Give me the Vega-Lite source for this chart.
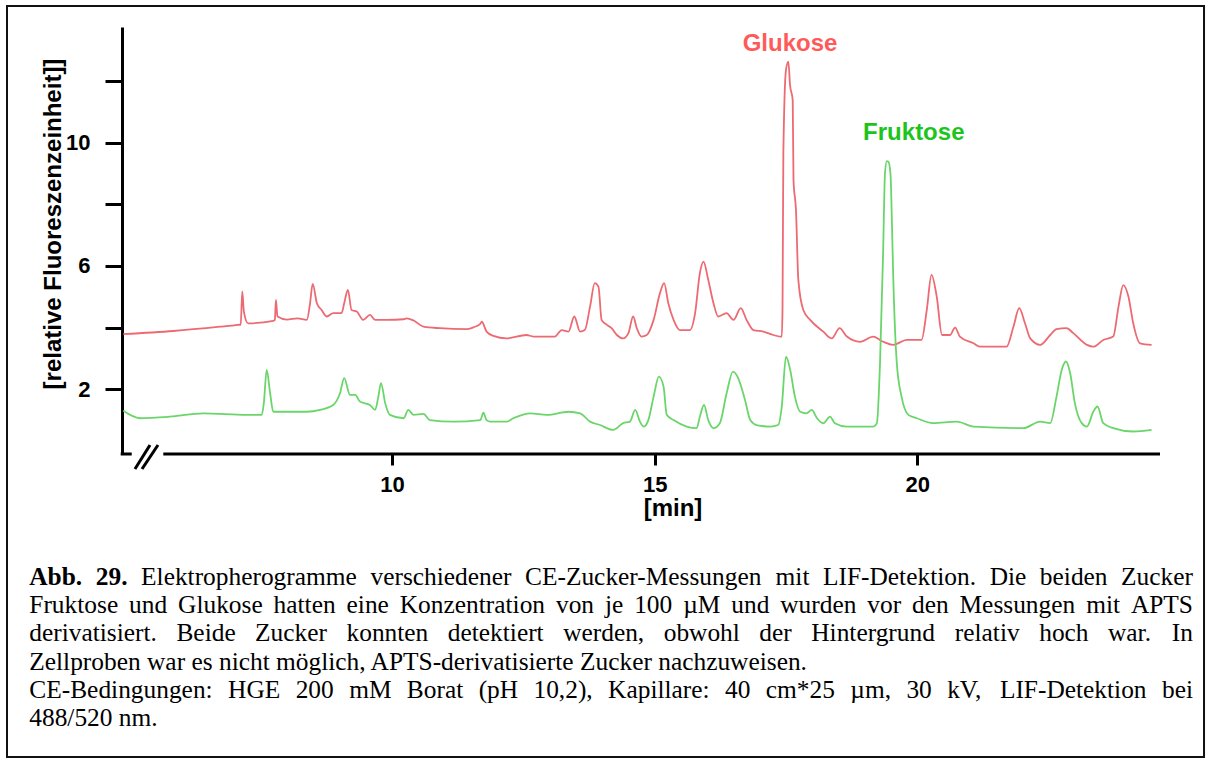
{
  "$schema": "https://vega.github.io/schema/vega-lite/v6.json",
  "width": 1038,
  "height": 427,
  "autosize": {"type": "none"},
  "padding": {"left": 122, "top": 27, "right": 51, "bottom": 310},
  "background": "white",
  "config": {"view": {"stroke": null}},
  "datasets": {
    "traces": [
      {"s":"Glukose","t":4.885,"f":3.79},{"s":"Glukose","t":5.84,"f":3.89},{"s":"Glukose","t":6.73,"f":4.03},{"s":"Glukose","t":7.07,"f":4.09},{"s":"Glukose","t":7.12,"f":4.10},{"s":"Glukose","t":7.15,"f":5.17},{"s":"Glukose","t":7.18,"f":4.52},{"s":"Glukose","t":7.26,"f":4.14},{"s":"Glukose","t":7.74,"f":4.22},{"s":"Glukose","t":7.77,"f":4.25},{"s":"Glukose","t":7.79,"f":4.90},{"s":"Glukose","t":7.82,"f":4.36},{"s":"Glukose","t":8.0,"f":4.26},{"s":"Glukose","t":8.2,"f":4.3},{"s":"Glukose","t":8.38,"f":4.25},{"s":"Glukose","t":8.44,"f":4.79},{"s":"Glukose","t":8.49,"f":5.42},{"s":"Glukose","t":8.57,"f":4.79},{"s":"Glukose","t":8.66,"f":4.57},{"s":"Glukose","t":8.76,"f":4.36},{"s":"Glukose","t":8.88,"f":4.47},{"s":"Glukose","t":9.04,"f":4.47},{"s":"Glukose","t":9.09,"f":4.79},{"s":"Glukose","t":9.16,"f":5.22},{"s":"Glukose","t":9.23,"f":4.57},{"s":"Glukose","t":9.33,"f":4.52},{"s":"Glukose","t":9.45,"f":4.25},{"s":"Glukose","t":9.58,"f":4.41},{"s":"Glukose","t":9.68,"f":4.25},{"s":"Glukose","t":9.90,"f":4.25},{"s":"Glukose","t":10.22,"f":4.27},{"s":"Glukose","t":10.28,"f":4.30},{"s":"Glukose","t":10.41,"f":4.23},{"s":"Glukose","t":10.60,"f":4.03},{"s":"Glukose","t":10.91,"f":3.98},{"s":"Glukose","t":11.42,"f":3.95},{"s":"Glukose","t":11.55,"f":4.01},{"s":"Glukose","t":11.68,"f":4.12},{"s":"Glukose","t":11.71,"f":4.19},{"s":"Glukose","t":11.80,"f":3.87},{"s":"Glukose","t":11.93,"f":3.73},{"s":"Glukose","t":12.18,"f":3.65},{"s":"Glukose","t":12.56,"f":3.76},{"s":"Glukose","t":12.69,"f":3.71},{"s":"Glukose","t":13.10,"f":3.71},{"s":"Glukose","t":13.23,"f":3.92},{"s":"Glukose","t":13.36,"f":3.87},{"s":"Glukose","t":13.47,"f":4.36},{"s":"Glukose","t":13.58,"f":3.87},{"s":"Glukose","t":13.67,"f":3.92},{"s":"Glukose","t":13.77,"f":4.68},{"s":"Glukose","t":13.86,"f":5.44},{"s":"Glukose","t":13.93,"f":5.33},{"s":"Glukose","t":13.99,"f":4.25},{"s":"Glukose","t":14.09,"f":4.09},{"s":"Glukose","t":14.18,"f":3.98},{"s":"Glukose","t":14.28,"f":3.76},{"s":"Glukose","t":14.40,"f":3.65},{"s":"Glukose","t":14.50,"f":3.82},{"s":"Glukose","t":14.59,"f":4.36},{"s":"Glukose","t":14.66,"f":3.98},{"s":"Glukose","t":14.75,"f":3.71},{"s":"Glukose","t":14.85,"f":3.76},{"s":"Glukose","t":14.98,"f":4.25},{"s":"Glukose","t":15.10,"f":5.11},{"s":"Glukose","t":15.18,"f":5.44},{"s":"Glukose","t":15.26,"f":4.79},{"s":"Glukose","t":15.36,"f":4.25},{"s":"Glukose","t":15.48,"f":3.92},{"s":"Glukose","t":15.67,"f":3.92},{"s":"Glukose","t":15.77,"f":4.47},{"s":"Glukose","t":15.86,"f":5.76},{"s":"Glukose","t":15.93,"f":6.14},{"s":"Glukose","t":16.02,"f":5.55},{"s":"Glukose","t":16.12,"f":4.79},{"s":"Glukose","t":16.21,"f":4.36},{"s":"Glukose","t":16.37,"f":4.47},{"s":"Glukose","t":16.50,"f":4.25},{"s":"Glukose","t":16.64,"f":4.63},{"s":"Glukose","t":16.75,"f":4.25},{"s":"Glukose","t":16.88,"f":3.92},{"s":"Glukose","t":17.07,"f":3.87},{"s":"Glukose","t":17.26,"f":3.76},{"s":"Glukose","t":17.39,"f":3.71},{"s":"Glukose","t":17.42,"f":3.71},{"s":"Glukose","t":17.434,"f":4.6},{"s":"Glukose","t":17.45,"f":9.66},{"s":"Glukose","t":17.50,"f":12.36},{"s":"Glukose","t":17.545,"f":12.63},{"s":"Glukose","t":17.577,"f":11.87},{"s":"Glukose","t":17.628,"f":11.38},{"s":"Glukose","t":17.643,"f":8.79},{"s":"Glukose","t":17.69,"f":7.82},{"s":"Glukose","t":17.735,"f":5.55},{"s":"Glukose","t":17.83,"f":4.57},{"s":"Glukose","t":17.96,"f":4.25},{"s":"Glukose","t":18.21,"f":3.87},{"s":"Glukose","t":18.37,"f":3.65},{"s":"Glukose","t":18.52,"f":3.98},{"s":"Glukose","t":18.66,"f":3.71},{"s":"Glukose","t":18.91,"f":3.54},{"s":"Glukose","t":19.16,"f":3.71},{"s":"Glukose","t":19.35,"f":3.54},{"s":"Glukose","t":19.54,"f":3.44},{"s":"Glukose","t":19.80,"f":3.60},{"s":"Glukose","t":20.08,"f":3.60},{"s":"Glukose","t":20.18,"f":4.57},{"s":"Glukose","t":20.27,"f":5.71},{"s":"Glukose","t":20.37,"f":5.00},{"s":"Glukose","t":20.47,"f":3.76},{"s":"Glukose","t":20.62,"f":3.76},{"s":"Glukose","t":20.72,"f":4.00},{"s":"Glukose","t":20.81,"f":3.71},{"s":"Glukose","t":21.07,"f":3.49},{"s":"Glukose","t":21.19,"f":3.38},{"s":"Glukose","t":21.70,"f":3.38},{"s":"Glukose","t":21.83,"f":4.03},{"s":"Glukose","t":21.94,"f":4.63},{"s":"Glukose","t":22.05,"f":4.14},{"s":"Glukose","t":22.15,"f":3.65},{"s":"Glukose","t":22.34,"f":3.44},{"s":"Glukose","t":22.53,"f":3.76},{"s":"Glukose","t":22.65,"f":3.95},{"s":"Glukose","t":22.84,"f":3.98},{"s":"Glukose","t":22.97,"f":3.82},{"s":"Glukose","t":23.23,"f":3.44},{"s":"Glukose","t":23.35,"f":3.38},{"s":"Glukose","t":23.54,"f":3.60},{"s":"Glukose","t":23.73,"f":3.71},{"s":"Glukose","t":23.83,"f":4.68},{"s":"Glukose","t":23.92,"f":5.38},{"s":"Glukose","t":24.02,"f":5.00},{"s":"Glukose","t":24.11,"f":4.14},{"s":"Glukose","t":24.24,"f":3.49},{"s":"Glukose","t":24.46,"f":3.44},
      {"s":"Fruktose","t":4.885,"f":1.30},{"s":"Fruktose","t":5.20,"f":1.06},{"s":"Fruktose","t":5.77,"f":1.11},{"s":"Fruktose","t":6.41,"f":1.22},{"s":"Fruktose","t":7.23,"f":1.17},{"s":"Fruktose","t":7.52,"f":1.17},{"s":"Fruktose","t":7.56,"f":1.55},{"s":"Fruktose","t":7.615,"f":2.63},{"s":"Fruktose","t":7.68,"f":1.87},{"s":"Fruktose","t":7.74,"f":1.27},{"s":"Fruktose","t":8.38,"f":1.27},{"s":"Fruktose","t":8.63,"f":1.33},{"s":"Fruktose","t":8.88,"f":1.49},{"s":"Fruktose","t":9.01,"f":1.87},{"s":"Fruktose","t":9.09,"f":2.36},{"s":"Fruktose","t":9.2,"f":1.82},{"s":"Fruktose","t":9.30,"f":1.82},{"s":"Fruktose","t":9.39,"f":1.60},{"s":"Fruktose","t":9.58,"f":1.49},{"s":"Fruktose","t":9.68,"f":1.33},{"s":"Fruktose","t":9.74,"f":1.76},{"s":"Fruktose","t":9.79,"f":2.20},{"s":"Fruktose","t":9.87,"f":1.55},{"s":"Fruktose","t":9.96,"f":1.17},{"s":"Fruktose","t":10.22,"f":1.06},{"s":"Fruktose","t":10.31,"f":1.33},{"s":"Fruktose","t":10.41,"f":1.17},{"s":"Fruktose","t":10.60,"f":1.20},{"s":"Fruktose","t":10.72,"f":1.00},{"s":"Fruktose","t":11.17,"f":0.95},{"s":"Fruktose","t":11.68,"f":1.00},{"s":"Fruktose","t":11.74,"f":1.24},{"s":"Fruktose","t":11.80,"f":1.00},{"s":"Fruktose","t":11.87,"f":0.95},{"s":"Fruktose","t":12.18,"f":0.95},{"s":"Fruktose","t":12.31,"f":1.06},{"s":"Fruktose","t":12.63,"f":1.22},{"s":"Fruktose","t":12.95,"f":1.17},{"s":"Fruktose","t":13.36,"f":1.27},{"s":"Fruktose","t":13.58,"f":1.22},{"s":"Fruktose","t":13.77,"f":0.95},{"s":"Fruktose","t":13.96,"f":0.84},{"s":"Fruktose","t":14.21,"f":0.68},{"s":"Fruktose","t":14.40,"f":0.90},{"s":"Fruktose","t":14.53,"f":0.95},{"s":"Fruktose","t":14.63,"f":1.33},{"s":"Fruktose","t":14.72,"f":0.95},{"s":"Fruktose","t":14.79,"f":0.79},{"s":"Fruktose","t":14.88,"f":1.00},{"s":"Fruktose","t":14.98,"f":1.76},{"s":"Fruktose","t":15.08,"f":2.41},{"s":"Fruktose","t":15.17,"f":2.08},{"s":"Fruktose","t":15.23,"f":1.17},{"s":"Fruktose","t":15.36,"f":1.00},{"s":"Fruktose","t":15.61,"f":0.79},{"s":"Fruktose","t":15.80,"f":0.74},{"s":"Fruktose","t":15.86,"f":1.11},{"s":"Fruktose","t":15.94,"f":1.49},{"s":"Fruktose","t":16.02,"f":1.00},{"s":"Fruktose","t":16.12,"f":0.74},{"s":"Fruktose","t":16.24,"f":0.90},{"s":"Fruktose","t":16.37,"f":1.87},{"s":"Fruktose","t":16.49,"f":2.57},{"s":"Fruktose","t":16.59,"f":2.36},{"s":"Fruktose","t":16.72,"f":1.65},{"s":"Fruktose","t":16.82,"f":1.00},{"s":"Fruktose","t":16.94,"f":0.84},{"s":"Fruktose","t":17.20,"f":0.79},{"s":"Fruktose","t":17.35,"f":0.84},{"s":"Fruktose","t":17.42,"f":1.44},{"s":"Fruktose","t":17.50,"f":3.06},{"s":"Fruktose","t":17.58,"f":2.63},{"s":"Fruktose","t":17.67,"f":1.76},{"s":"Fruktose","t":17.77,"f":1.27},{"s":"Fruktose","t":17.89,"f":1.22},{"s":"Fruktose","t":17.99,"f":1.33},{"s":"Fruktose","t":18.09,"f":1.06},{"s":"Fruktose","t":18.21,"f":0.90},{"s":"Fruktose","t":18.34,"f":1.11},{"s":"Fruktose","t":18.43,"f":0.90},{"s":"Fruktose","t":18.66,"f":0.79},{"s":"Fruktose","t":18.91,"f":0.79},{"s":"Fruktose","t":19.16,"f":0.79},{"s":"Fruktose","t":19.23,"f":0.90},{"s":"Fruktose","t":19.29,"f":2.84},{"s":"Fruktose","t":19.35,"f":6.52},{"s":"Fruktose","t":19.385,"f":9.02},{"s":"Fruktose","t":19.42,"f":9.40},{"s":"Fruktose","t":19.45,"f":9.38},{"s":"Fruktose","t":19.49,"f":8.97},{"s":"Fruktose","t":19.52,"f":7.17},{"s":"Fruktose","t":19.54,"f":5.76},{"s":"Fruktose","t":19.61,"f":2.84},{"s":"Fruktose","t":19.70,"f":1.76},{"s":"Fruktose","t":19.83,"f":1.17},{"s":"Fruktose","t":19.99,"f":1.06},{"s":"Fruktose","t":20.30,"f":0.90},{"s":"Fruktose","t":20.75,"f":0.95},{"s":"Fruktose","t":21.07,"f":0.79},{"s":"Fruktose","t":22.02,"f":0.74},{"s":"Fruktose","t":22.34,"f":0.95},{"s":"Fruktose","t":22.53,"f":0.90},{"s":"Fruktose","t":22.65,"f":1.76},{"s":"Fruktose","t":22.75,"f":2.63},{"s":"Fruktose","t":22.83,"f":2.90},{"s":"Fruktose","t":22.91,"f":2.52},{"s":"Fruktose","t":23.0,"f":1.54},{"s":"Fruktose","t":23.13,"f":0.90},{"s":"Fruktose","t":23.23,"f":0.79},{"s":"Fruktose","t":23.35,"f":1.27},{"s":"Fruktose","t":23.43,"f":1.44},{"s":"Fruktose","t":23.54,"f":0.90},{"s":"Fruktose","t":23.73,"f":0.74},{"s":"Fruktose","t":24.11,"f":0.63},{"s":"Fruktose","t":24.46,"f":0.68}
    ],
    "frame": [{"t": 2.671, "t2": 25.458, "f": 14.431, "f2": -9.928}],
    "axisparts": [
      {"t": 4.835, "t2": 5.045, "f": -0.1, "f2": -0.1},
      {"t": 5.646, "t2": 24.62, "f": -0.1, "f2": -0.1},
      {"t": 5.107, "t2": 5.393, "f": -0.587, "f2": 0.192},
      {"t": 5.241, "t2": 5.545, "f": -0.587, "f2": 0.192}
    ],
    "peaklabels": [
      {"txt": "Glukose", "t": 17.577, "f": 12.97},
      {"txt": "Fruktose", "t": 19.933, "f": 10.085}
    ],
    "captionbold": [
      {"txt": "Abb.", "t": 3.095, "f": -4.349},
      {"txt": "29.", "t": 4.361, "f": -4.349}
    ],
    "caption": [
      {"txt": "Elektropherogramme", "t": 5.223, "f": -4.349},
      {"txt": "verschiedener", "t": 9.59, "f": -4.349},
      {"txt": "CE-Zucker-Messungen", "t": 12.532, "f": -4.349},
      {"txt": "mit", "t": 17.302, "f": -4.349},
      {"txt": "LIF-Detektion.", "t": 18.204, "f": -4.349},
      {"txt": "Die", "t": 21.377, "f": -4.349},
      {"txt": "beiden", "t": 22.333, "f": -4.349},
      {"txt": "Zucker", "t": 23.879, "f": -4.349},
      {"txt": "Fruktose", "t": 3.095, "f": -5.264},
      {"txt": "und", "t": 4.995, "f": -5.264},
      {"txt": "Glukose", "t": 5.927, "f": -5.264},
      {"txt": "hatten", "t": 7.746, "f": -5.264},
      {"txt": "eine", "t": 9.135, "f": -5.264},
      {"txt": "Konzentration", "t": 10.148, "f": -5.264},
      {"txt": "von", "t": 13.121, "f": -5.264},
      {"txt": "je", "t": 14.053, "f": -5.264},
      {"txt": "100", "t": 14.61, "f": -5.264},
      {"txt": "µM", "t": 15.542, "f": -5.264},
      {"txt": "und", "t": 16.458, "f": -5.264},
      {"txt": "wurden", "t": 17.39, "f": -5.264},
      {"txt": "vor", "t": 19.047, "f": -5.264},
      {"txt": "den", "t": 19.899, "f": -5.264},
      {"txt": "Messungen", "t": 20.804, "f": -5.264},
      {"txt": "mit", "t": 23.214, "f": -5.264},
      {"txt": "APTS", "t": 24.066, "f": -5.264},
      {"txt": "derivatisiert.", "t": 3.095, "f": -6.179},
      {"txt": "Beide", "t": 5.896, "f": -6.179},
      {"txt": "Zucker", "t": 7.394, "f": -6.179},
      {"txt": "konnten", "t": 9.134, "f": -6.179},
      {"txt": "detektiert", "t": 11.062, "f": -6.179},
      {"txt": "werden,", "t": 13.258, "f": -6.179},
      {"txt": "obwohl", "t": 15.172, "f": -6.179},
      {"txt": "der", "t": 16.993, "f": -6.179},
      {"txt": "Hintergrund", "t": 17.981, "f": -6.179},
      {"txt": "relativ", "t": 20.714, "f": -6.179},
      {"txt": "hoch", "t": 22.32, "f": -6.179},
      {"txt": "war.", "t": 23.63, "f": -6.179},
      {"txt": "In", "t": 24.846, "f": -6.179},
      {"txt": "Zellproben war es nicht möglich, APTS-derivatisierte Zucker nachzuweisen.", "t": 3.095, "f": -7.093},
      {"txt": "CE-Bedingungen:", "t": 3.095, "f": -8.008},
      {"txt": "HGE", "t": 6.88, "f": -8.008},
      {"txt": "200", "t": 8.166, "f": -8.008},
      {"txt": "mM", "t": 9.184, "f": -8.008},
      {"txt": "Borat", "t": 10.282, "f": -8.008},
      {"txt": "(pH", "t": 11.649, "f": -8.008},
      {"txt": "10,2),", "t": 12.693, "f": -8.008},
      {"txt": "Kapillare:", "t": 14.114, "f": -8.008},
      {"txt": "40", "t": 16.34, "f": -8.008},
      {"txt": "cm*25", "t": 17.116, "f": -8.008},
      {"txt": "µm,", "t": 18.724, "f": -8.008},
      {"txt": "30", "t": 19.792, "f": -8.008},
      {"txt": "kV,", "t": 20.568, "f": -8.008},
      {"txt": "LIF-Detektion", "t": 21.572, "f": -8.008},
      {"txt": "bei", "t": 24.658, "f": -8.008},
      {"txt": "488/520 nm.", "t": 3.095, "f": -8.923}
    ]
  },
  "encoding": {
    "x": {
      "field": "t", "type": "quantitative",
      "scale": {"domain": [4.86, 24.62], "nice": false, "zero": false},
      "axis": {
        "values": [10, 15, 20], "domain": false, "grid": false,
        "tickSize": 11, "tickWidth": 3, "tickColor": "#000",
        "labelFont": "Liberation Sans", "labelFontSize": 22, "labelFontWeight": "bold", "labelColor": "#000",
        "labelPadding": 9, "labelFlush": false, "labelOverlap": false,
        "title": "[min]", "titleFont": "Liberation Sans", "titleFontSize": 24, "titleFontWeight": "bold", "titleColor": "#000",
        "titleX": 550.5, "titleY": 54.5, "titleAlign": "center", "titleBaseline": "middle"
      }
    },
    "y": {
      "field": "f", "type": "quantitative",
      "scale": {"domain": [-0.1, 13.75], "nice": false, "zero": false},
      "axis": {
        "values": [2, 4, 6, 8, 10, 12],
        "labelExpr": "datum.value % 4 == 2 ? datum.label : ''",
        "domain": true, "domainWidth": 3, "domainColor": "#000", "grid": false,
        "tickSize": 17, "tickWidth": 3, "tickColor": "#000",
        "labelFont": "Liberation Sans", "labelFontSize": 22, "labelFontWeight": "bold", "labelColor": "#000",
        "labelPadding": 15, "labelFlush": false, "labelOverlap": false,
        "title": "[relative Fluoreszenzeinheit]]", "titleFont": "Liberation Sans", "titleFontSize": 24, "titleFontWeight": "bold", "titleColor": "#000",
        "titleAngle": -90, "titleX": -69, "titleY": 196.5, "titleAlign": "center", "titleBaseline": "middle"
      }
    }
  },
  "layer": [
    {
      "data": {"name": "frame"},
      "mark": {"type": "rect", "filled": false, "stroke": "#111", "strokeWidth": 2},
      "encoding": {"x2": {"field": "t2"}, "y2": {"field": "f2"}}
    },
    {
      "data": {"name": "traces"},
      "mark": {"type": "line", "strokeWidth": 1.8, "interpolate": "monotone"},
      "encoding": {
        "color": {"field": "s", "type": "nominal", "scale": {"domain": ["Glukose", "Fruktose"], "range": ["#ec6a72", "#6ad66a"]}, "legend": null}
      }
    },
    {
      "data": {"name": "axisparts"},
      "mark": {"type": "rule", "stroke": "#000", "strokeWidth": 3},
      "encoding": {"x2": {"field": "t2"}, "y2": {"field": "f2"}}
    },
    {
      "data": {"name": "peaklabels"},
      "transform": [{"filter": "datum.txt == 'Glukose'"}],
      "mark": {"type": "text", "font": "Liberation Sans", "fontSize": 24, "fontWeight": "bold", "align": "center", "baseline": "alphabetic", "color": "#ff5a5a"},
      "encoding": {"text": {"field": "txt"}}
    },
    {
      "data": {"name": "peaklabels"},
      "transform": [{"filter": "datum.txt == 'Fruktose'"}],
      "mark": {"type": "text", "font": "Liberation Sans", "fontSize": 24, "fontWeight": "bold", "align": "center", "baseline": "alphabetic", "color": "#1cc41c"},
      "encoding": {"text": {"field": "txt"}}
    },
    {
      "data": {"name": "captionbold"},
      "mark": {"type": "text", "font": "Liberation Serif", "fontSize": 25.4, "fontWeight": "bold", "align": "left", "baseline": "alphabetic", "color": "#000"},
      "encoding": {"text": {"field": "txt"}}
    },
    {
      "data": {"name": "caption"},
      "mark": {"type": "text", "font": "Liberation Serif", "fontSize": 25.4, "align": "left", "baseline": "alphabetic", "color": "#000"},
      "encoding": {"text": {"field": "txt"}}
    }
  ]
}
